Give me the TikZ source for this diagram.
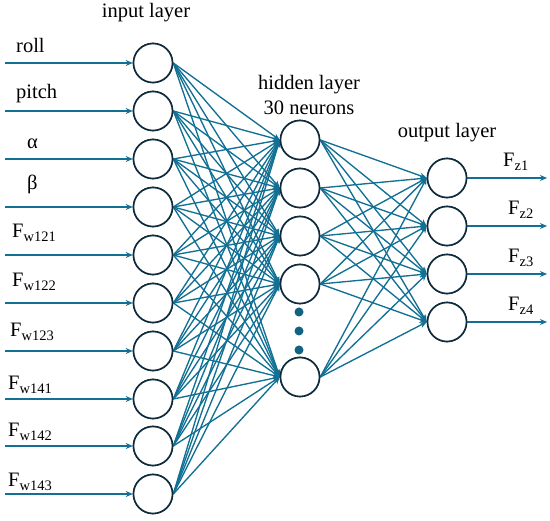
\documentclass[tikz,border=0pt]{standalone}
\usepackage{fontspec}
\setmainfont{Liberation Serif}
\usetikzlibrary{arrows.meta}
\definecolor{edge}{RGB}{18,112,148}
\definecolor{ring}{RGB}{16,44,60}
\tikzset{
  neuron/.style={circle,draw=ring,line width=1.6pt,minimum size=39pt,inner sep=0pt,fill=white},
  conn/.style={draw=edge,line width=1.35pt,-{Stealth[length=7pt,width=6pt]}},
  lbl/.style={anchor=base west,inner sep=0pt,font=\fontsize{20.5}{22}\selectfont},
  ttl/.style={anchor=base,inner sep=0pt,font=\fontsize{20.5}{22}\selectfont},
  dotn/.style={circle,fill=edge!80!ring,minimum size=9pt,inner sep=0pt}
}
\newcommand{\Fs}[1]{F\raisebox{-0.33ex}{\fontsize{14.5}{15}\selectfont #1}}
\begin{document}
\begin{tikzpicture}[x=1pt,y=-1pt]
\useasboundingbox (0,0) rectangle (550,521);
% titles
\node[ttl] (tin) at (146,18) {input layer};
\node[ttl] (th1) at (309,90) {hidden layer};
\node[ttl] (th2) at (309,115) {30 neurons};
\node[ttl] (tout) at (447,138) {output layer};
% input nodes
\foreach \i/\y in {1/63,2/111,3/159,4/207,5/255,6/303,7/351,8/399,9/446,10/494}{
  \node[neuron] (i\i) at (153,\y) {};
  \coordinate (s\i) at (5,\y);
}
% hidden nodes
\foreach \j/\y in {1/140,2/188,3/236,4/284,5/377}{
  \node[neuron] (h\j) at (300,\y) {};
}
\node[dotn] (d1) at (299,312) {};
\node[dotn] (d2) at (299,331) {};
\node[dotn] (d3) at (299,350) {};
% output nodes
\foreach \k/\y in {1/178,2/226,3/274,4/322}{
  \node[neuron] (o\k) at (447,\y) {};
  \coordinate (e\k) at (547,\y);
}
% connections
\foreach \i in {1,...,10}{
  \draw[conn] (s\i) -- (i\i.west);
  \foreach \j in {1,...,5}{
    \draw[conn] (i\i.east) -- (h\j.west);
  }
}
\foreach \j in {1,...,5}{
  \foreach \k in {1,...,4}{
    \draw[conn] (h\j.east) -- (o\k.west);
  }
}
\foreach \k in {1,...,4}{
  \draw[conn] (o\k.east) -- (e\k);
}
% redraw circles on top
\foreach \i/\y in {1/63,2/111,3/159,4/207,5/255,6/303,7/351,8/399,9/446,10/494}{
  \node[neuron] at (153,\y) {};
}
\foreach \j/\y in {1/140,2/188,3/236,4/284,5/377}{
  \node[neuron] at (300,\y) {};
}
\foreach \k/\y in {1/178,2/226,3/274,4/322}{
  \node[neuron] at (447,\y) {};
}
% input labels
\node[lbl] (l1) at (16,53) {roll};
\node[lbl] (l2) at (16,99) {pitch};
\node[lbl] (l3) at (27,149) {α};
\node[lbl] (l4) at (27,190) {β};
\node[lbl] (l5) at (12,238) {\Fs{w121}};
\node[lbl] (l6) at (12,287) {\Fs{w122}};
\node[lbl] (l7) at (10,337) {\Fs{w123}};
\node[lbl] (l8) at (8,390) {\Fs{w141}};
\node[lbl] (l9) at (8,437) {\Fs{w142}};
\node[lbl] (l10) at (8,487) {\Fs{w143}};
% output labels
\node[lbl] (r1) at (503,167) {\Fs{z1}};
\node[lbl] (r2) at (508,215) {\Fs{z2}};
\node[lbl] (r3) at (508,263) {\Fs{z3}};
\node[lbl] (r4) at (508,311) {\Fs{z4}};
\end{tikzpicture}
\end{document}
